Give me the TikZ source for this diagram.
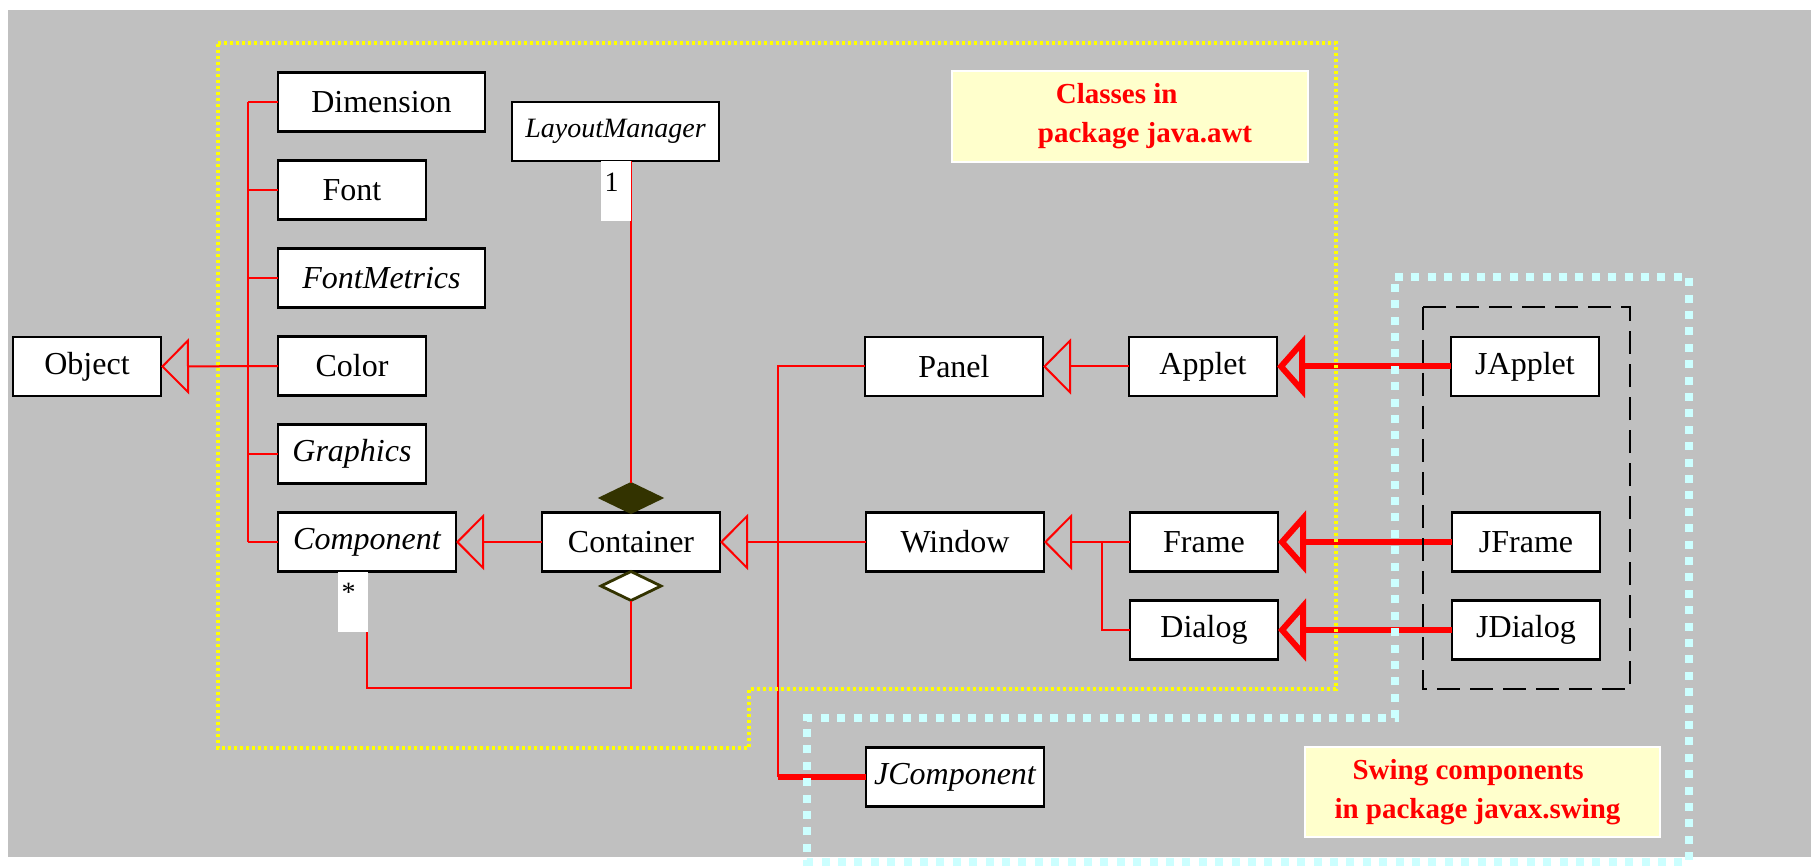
\documentclass[tikz,border=0pt]{standalone}
\usepackage{fontspec}
\setmainfont{Liberation Serif}
\usetikzlibrary{positioning}
\usetikzlibrary{arrows.meta}
\usetikzlibrary{shapes.geometric}

\definecolor{panelgray}{HTML}{C0C0C0}
\definecolor{umlred}{HTML}{FF0000}
\definecolor{darkolive}{HTML}{333300}
\definecolor{swingcyan}{HTML}{CCFFFF}
\definecolor{awtyellow}{HTML}{FFFF00}
\definecolor{notefill}{HTML}{FFFFCC}

\begin{document}
\begin{tikzpicture}
	[x=0.5pt, y=-0.5pt,
	 cls/.style={draw=black, fill=white, line width=1.4pt, minimum height=29.5pt, inner sep=0pt, outer sep=0pt, font=\fontsize{16}{19}\selectfont},
	 abstr/.style={font=\fontsize{16}{19}\selectfont\itshape},
	 narrow/.style={cls, minimum width=74pt},
	 medium/.style={cls, minimum width=89pt},
	 wide/.style={cls, minimum width=103.5pt},
	 link/.style={draw=umlred, line width=1pt},
	 heavy/.style={draw=umlred, line width=3pt},
	 inherit/.style={link, -{Triangle[open, length=14pt, width=28pt]}},
	 inheritheavy/.style={heavy, -{Triangle[open, length=14pt, width=31pt]}},
	 agg/.style={diamond, draw=darkolive, line width=1.4pt, minimum width=30pt, minimum height=14.5pt, inner sep=0pt, outer sep=0pt},
	 mult/.style={fill=white, inner xsep=2pt, inner ysep=0pt, text width=11pt, align=left, text height=15pt, text depth=15pt, font=\fontsize{14}{16}\selectfont},
	 note/.style={fill=notefill, draw=white, line width=1pt, text=umlred, align=left, font=\fontsize{14.5}{19.5}\selectfont\bfseries}]
		\path[use as bounding box, fill=white] (0,0) rectangle (1811,866);
		\fill[panelgray] (8,10) rectangle (1811,857);

		% java.awt classes
		\node[narrow] (obj) at (87,366.5) {Object};
		\node[wide] (dim) at (381.5,102) {Dimension};
		\node[narrow, below right=14.5pt and 0pt of dim.south west] (font) {Font};
		\node[wide, abstr, below right=14.5pt and 0pt of font.south west] (fmet) {FontMetrics};
		\node[narrow, below right=14.5pt and 0pt of fmet.south west] (color) {Color};
		\node[narrow, abstr, below right=14.5pt and 0pt of color.south west] (graph) {Graphics};
		\node[medium, abstr, below right=14.5pt and 0pt of graph.south west] (comp) {Component};
		\node[medium, right=43pt of comp] (cont) {Container};
		\node[wide, font=\fontsize{14}{17}\selectfont\itshape] (lay) at (615.5,131.5) {LayoutManager};
		\node[agg, fill=darkolive, above=0pt of cont] (hasA) {};
		\node[agg, fill=white, below=0pt of cont] (hasMany) {};
		\node[medium] (panel) at (954,366.5) {Panel};
		\node[narrow, right=43pt of panel] (applet) {Applet};
		\node[medium, right=73pt of cont] (win) {Window};
		\node[narrow, right=43pt of win] (frame) {Frame};
		\node[narrow, below right=14.5pt and 0pt of frame.south west] (dialog) {Dialog};

		% javax.swing classes
		\node[medium, abstr, below=88pt of win] (jcomp) {JComponent};
		\node[narrow, right=87pt of applet] (japplet) {JApplet};
		\node[narrow, right=87pt of frame] (jframe) {JFrame};
		\node[narrow, right=87pt of dialog] (jdialog) {JDialog};

		\node[note, minimum width=178pt, minimum height=45.5pt] (awtnote) at (1130,116.5)
			{\hspace*{24pt}Classes in\\\hspace*{15pt}package java.awt};
		\node[note, minimum width=177.5pt, minimum height=45pt] (swingnote) at (1482.5,792)
			{\hspace*{9pt}Swing components\\in package javax.swing\hspace*{5pt}};

		% connectors
		\foreach \n in {dim, font, fmet, color, graph, comp}
			\draw[link] (\n.west) -- ++(-15pt,0pt);
		\draw[link] ([xshift=-15pt]dim.west) -- ([xshift=-15pt]comp.west);
		\draw[inherit] (color.west) -- (obj.east);
		\draw[inherit] (cont) -- (comp);

		\draw[link] (hasA) -- (hasA |- lay.south);
		\node[mult, anchor=north east] (one) at (hasA |- lay.south) {1};
		\draw[link] (hasMany.south) -- ++(0pt,-43.5pt) -| (comp.south);
		\node[mult, anchor=north east] (many) at ([xshift=0.5pt]comp.south) {*};

		\draw[inherit] (win) -- (cont);
		\coordinate (bus) at ([xshift=-43.5pt]panel.west);
		\draw[link] (panel.west) -- (bus) -- (bus |- jcomp.west);
		\draw[heavy] (bus |- jcomp.west) -- (jcomp.west);
		\draw[inherit] (applet) -- (panel);
		\draw[inherit] (frame) -- (win);
		\draw[link] (dialog.west) -| ([xshift=-14pt]frame.west);
		\draw[inheritheavy] (japplet) -- (applet);
		\draw[inheritheavy] (jframe) -- (frame);
		\draw[inheritheavy] (jdialog) -- (dialog);

		% package boundaries
		\draw[awtyellow, line width=1.6pt, dash pattern=on 1.6pt off 1.4pt]
			(218,43) -- (1336,43) -- (1336,689) -- (749,689) -- (749,748) -- (218,748) -- cycle;
		\draw[swingcyan, line width=4pt, dash pattern=on 4pt off 4.2pt]
			(1395,277) -- (1689,277) -- (1689,862) -- (807,862) -- (807,718) -- (1395,718) -- cycle;
		\draw[black, line width=1.4pt, dash pattern=on 11.5pt off 5pt] (1423,307) rectangle (1630,689);
	\end{tikzpicture}
\end{document}
